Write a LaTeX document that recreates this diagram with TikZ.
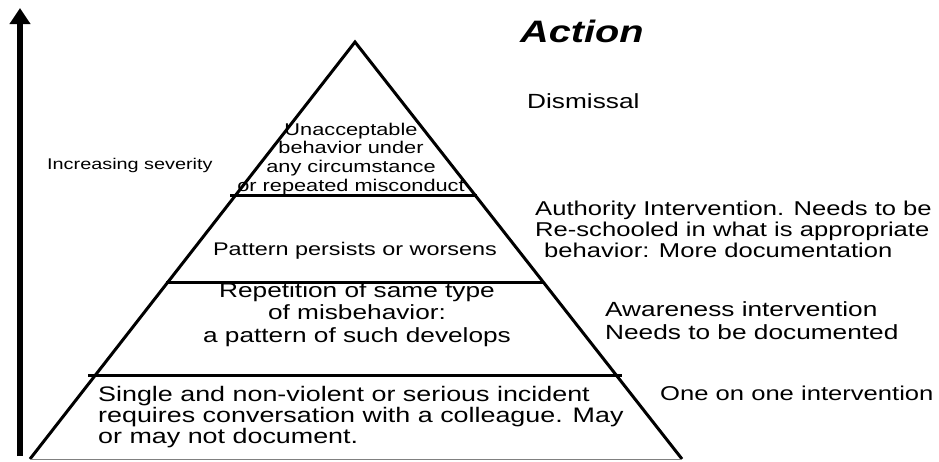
\documentclass[tikz,border=0pt]{standalone}
\usepackage{fontspec}
\setmainfont{Liberation Sans}[FakeStretch=1.28]
\usetikzlibrary{arrows.meta}

\begin{document}
\begin{tikzpicture}[x=1pt,y=-1pt,
  side/.style={line width=3pt},
  divider/.style={line width=3pt},
  lbl/.style={inner sep=0pt, anchor=base west, align=left},
  mid/.style={inner sep=0pt, anchor=base, align=center}]
\useasboundingbox (0,0) rectangle (939,461);

% Severity arrow
\coordinate (low) at (20,456);
\coordinate (high) at (20,8);
\draw[line width=6pt, -{Triangle[length=16pt,width=20pt]}] (low) -- (high);
\node[lbl, font=\fontsize{15.5}{18}\selectfont] (sev) at (47,169) {Increasing severity};

% Pyramid
\coordinate (apex) at (355,42);
\coordinate (bl) at (30,459);
\coordinate (br) at (682,459);
\draw[side] (bl) -- (apex) -- (br);
\draw[gray, line width=1pt] (bl) -- (br);

% Tier dividers
\draw[divider] (230,195) -- (477,195);
\draw[divider] (166,282) -- (543,282);
\draw[divider] (88,375) -- (622,375);

% Tier texts (base = last line)
\node[mid, font=\fontsize{17}{18.6}\selectfont] (top) at (351,191)
  {Unacceptable\\behavior under\\any circumstance\\or repeated misconduct};
\node[mid, font=\fontsize{18.3}{22}\selectfont] (persist) at (355,255)
  {Pattern persists or worsens};
\node[mid, font=\fontsize{20.5}{22.5}\selectfont] (repeat) at (357,342)
  {Repetition of same type\\of misbehavior:\\a pattern of such develops};
\node[lbl, font=\fontsize{21}{21}\selectfont] (single) at (98,443)
  {Single and non-violent or serious incident\\requires conversation with a colleague. May\\or may not document.};

% Actions
\node[lbl, font=\fontsize{31}{31}\selectfont\bfseries\itshape] (action) at (520,42) {Action};
\node[lbl, font=\fontsize{20.5}{21}\selectfont] (dismiss) at (527,108) {Dismissal};
\node[lbl, font=\fontsize{20}{21}\selectfont] (authority) at (535,257)
  {Authority Intervention. Needs to be\\Re-schooled in what is appropriate\\\hspace*{9pt}behavior: More documentation};
\node[lbl, font=\fontsize{20.5}{23}\selectfont] (aware) at (605,339)
  {Awareness intervention\\Needs to be documented};
\node[lbl, font=\fontsize{20}{23}\selectfont] (oneone) at (660,400) {One on one intervention};

\end{tikzpicture}
\end{document}
